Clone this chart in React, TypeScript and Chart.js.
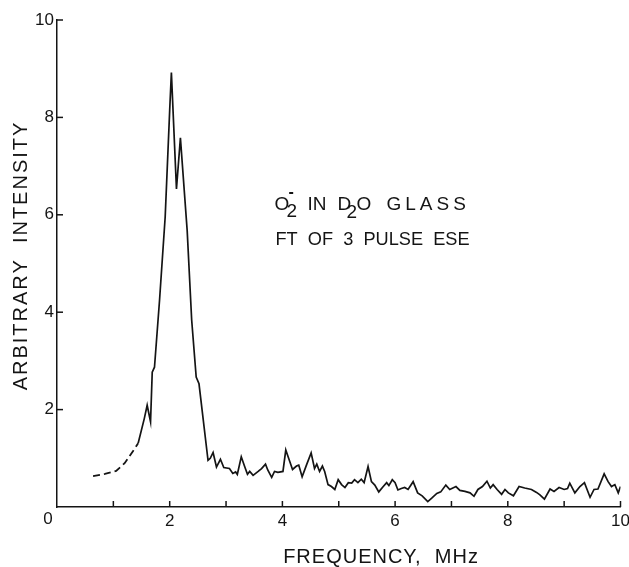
import { useEffect, useRef } from 'react';
import { Chart, registerables } from 'chart.js';

Chart.register(...registerables);

// Dashed low-frequency wing (extrapolated part of the spectrum)
const dashedFreq = [0.64, 0.85, 1.05, 1.2, 1.38, 1.44];
const dashedIntensity = [0.635, 0.68, 0.74, 0.9, 1.2, 1.31];

// Measured FT spectrum (solid)
const freq = [
  1.44, 1.55, 1.6, 1.66, 1.69, 1.73, 1.82, 1.92, 2.0, 2.03, 2.12, 2.19, 2.31, 2.39, 2.47, 2.52,
  2.68, 2.72, 2.77, 2.83, 2.9, 2.96, 3.06, 3.12, 3.17, 3.2, 3.27, 3.33, 3.38, 3.42, 3.48, 3.57,
  3.63, 3.7, 3.74, 3.81, 3.86, 3.92, 4.01, 4.06, 4.12, 4.18, 4.25, 4.29, 4.35, 4.43, 4.51, 4.57,
  4.61, 4.66, 4.71, 4.75, 4.81, 4.87, 4.93, 4.99, 5.05, 5.11, 5.17, 5.23, 5.28, 5.34, 5.4, 5.45,
  5.52, 5.58, 5.64, 5.71, 5.79, 5.85, 5.89, 5.95, 6.0, 6.05, 6.11, 6.17, 6.23, 6.32, 6.4, 6.48,
  6.58, 6.65, 6.74, 6.81, 6.9, 6.97, 7.08, 7.15, 7.24, 7.33, 7.4, 7.47, 7.55, 7.63, 7.69, 7.74,
  7.81, 7.89, 7.95, 8.01, 8.1, 8.2, 8.3, 8.42, 8.51, 8.57, 8.65, 8.75, 8.82, 8.91, 9.0, 9.06,
  9.1, 9.19, 9.28, 9.36, 9.46, 9.53, 9.6, 9.71, 9.78, 9.84, 9.9, 9.96, 10.0,
];
const intensity = [
  1.31, 1.82, 2.09, 1.75, 2.77, 2.87, 4.25, 5.96, 8.15, 8.92, 6.53, 7.58, 5.68, 3.84, 2.67, 2.53,
  0.96, 1.0, 1.12, 0.82, 0.98, 0.81, 0.79, 0.69, 0.72, 0.67, 1.03, 0.83, 0.67, 0.73, 0.65, 0.73,
  0.79, 0.88, 0.76, 0.61, 0.73, 0.71, 0.73, 1.17, 0.97, 0.77, 0.84, 0.86, 0.62, 0.87, 1.11, 0.79,
  0.88, 0.73, 0.84, 0.73, 0.46, 0.42, 0.36, 0.56, 0.46, 0.4, 0.5, 0.49, 0.56, 0.5, 0.57, 0.5,
  0.83, 0.52, 0.45, 0.31, 0.42, 0.5, 0.44, 0.56, 0.5, 0.35, 0.38, 0.4, 0.36, 0.52, 0.29, 0.23,
  0.11, 0.18, 0.28, 0.31, 0.45, 0.36, 0.42, 0.34, 0.32, 0.29, 0.22, 0.36, 0.42, 0.53, 0.39, 0.46,
  0.36, 0.26, 0.36, 0.29, 0.23, 0.42, 0.39, 0.36, 0.3, 0.25, 0.16, 0.37, 0.32, 0.4, 0.36, 0.38,
  0.49, 0.29, 0.42, 0.5, 0.2, 0.36, 0.37, 0.68, 0.52, 0.42, 0.46, 0.29, 0.42,
];

const xLabelValues = [2, 4, 6, 8, 10];
const yLabelValues = [2, 4, 6, 8, 10];
const xTickMarks = [1, 2, 3, 4, 5, 6, 7, 8, 9, 10];
const yTickMarks = [2, 4, 6, 8, 10];

const xTitle = 'FREQUENCY,  MHz';
const yTitle = 'ARBITRARY  INTENSITY';
const originLabel = '0';
const noteLine2 = 'FT  OF  3  PULSE  ESE';

const FONT = '"Liberation Sans", Arial, sans-serif';
const INK = '#141414';

const overlayPlugin = {
  id: 'overlay',
  afterDraw(chart: any) {
    const { ctx, chartArea, scales } = chart;
    const xs = scales.x;
    const ys = scales.y;
    ctx.save();
    ctx.strokeStyle = INK;
    ctx.lineWidth = 1.5;
    for (const v of xTickMarks) {
      const px = xs.getPixelForValue(v);
      ctx.beginPath();
      ctx.moveTo(px, chartArea.bottom);
      ctx.lineTo(px, chartArea.bottom - 6);
      ctx.stroke();
    }
    for (const v of yTickMarks) {
      const py = ys.getPixelForValue(v);
      ctx.beginPath();
      ctx.moveTo(chartArea.left, py);
      ctx.lineTo(chartArea.left + 6, py);
      ctx.stroke();
    }

    ctx.fillStyle = INK;
    // origin "0"
    ctx.font = `17px ${FONT}`;
    ctx.textAlign = 'center';
    ctx.textBaseline = 'middle';
    ctx.fillText(originLabel, xs.getPixelForValue(0) - 9, ys.getPixelForValue(0) + 12);

    // x title
    ctx.font = `20px ${FONT}`;
    (ctx as any).letterSpacing = '1px';
    ctx.textAlign = 'center';
    ctx.textBaseline = 'middle';
    ctx.fillText(xTitle, xs.getPixelForValue(5.75), chartArea.bottom + 50);

    // y title
    ctx.save();
    ctx.translate(21, ys.getPixelForValue(5) - 8);
    ctx.rotate(-Math.PI / 2);
    (ctx as any).letterSpacing = '2px';
    ctx.fillText(yTitle, 0, 0);
    ctx.restore();

    // annotation
    const ax = xs.getPixelForValue(3.86);
    const b1 = ys.getPixelForValue(6.09);
    const b2 = ys.getPixelForValue(5.37);
    ctx.textAlign = 'left';
    ctx.textBaseline = 'alphabetic';
    ctx.font = `19px ${FONT}`;
    (ctx as any).letterSpacing = '0px';
    const pieces: [string, number, number][] = [
      ['O', 0, 0],
      ['2', 12, 7],
      ['IN', 33, 0],
      ['D', 63, 0],
      ['2', 72, 8],
      ['O', 82, 0],
    ];
    for (const [t, dx, dy] of pieces) ctx.fillText(t, ax + dx, b1 + dy);
    (ctx as any).letterSpacing = '4px';
    ctx.fillText('GLASS', ax + 112, b1);
    (ctx as any).letterSpacing = '0px';
    ctx.font = `bold 16px ${FONT}`;
    ctx.fillText('-', ax + 14, b1 - 13);
    ctx.font = `19px ${FONT}`;
    (ctx as any).letterSpacing = '0px';
    ctx.fillText(noteLine2, ax + 1, b2, 194);
    ctx.restore();
  },
};

export default function App() {
  const ref = useRef<HTMLCanvasElement | null>(null);
  useEffect(() => {
    if (!ref.current) return;
    const chart = new Chart(ref.current, {
      type: 'line',
      data: {
        datasets: [
          {
            data: dashedFreq.map((x, i) => ({ x, y: dashedIntensity[i] })),
            borderColor: INK,
            borderWidth: 1.8,
            borderDash: [7, 4],
            pointRadius: 0,
            tension: 0,
            fill: false,
          },
          {
            data: freq.map((x, i) => ({ x, y: intensity[i] })),
            borderColor: INK,
            borderWidth: 1.7,
            pointRadius: 0,
            tension: 0,
            fill: false,
          },
        ],
      },
      options: {
        animation: false,
        responsive: false,
        maintainAspectRatio: false,
        layout: { padding: { top: 20, left: 0, right: 8.5, bottom: 0 } },
        plugins: { legend: { display: false }, tooltip: { enabled: false }, title: { display: false } },
        scales: {
          x: {
            type: 'linear',
            min: 0,
            max: 10,
            grid: { display: false, drawTicks: false },
            border: { display: true, color: INK, width: 1.5 },
            ticks: {
              stepSize: 1,
              autoSkip: false,
              maxRotation: 0,
              padding: 4,
              color: INK,
              font: { family: FONT, size: 17 },
              callback: (v: any) => (xLabelValues.includes(Number(v)) ? String(v) : ''),
            },
            afterFit: (s: any) => {
              s.height = 60;
              s.paddingLeft = 0;
              s.paddingRight = 0;
            },
          },
          y: {
            min: 0,
            max: 10,
            grid: { display: false, drawTicks: false },
            border: { display: true, color: INK, width: 1.5 },
            ticks: {
              stepSize: 2,
              padding: 3,
              color: INK,
              font: { family: FONT, size: 17 },
              callback: (v: any) => (yLabelValues.includes(Number(v)) ? String(v) : ''),
            },
            afterFit: (s: any) => {
              s.width = 57;
              s.paddingTop = 0;
              s.paddingBottom = 0;
            },
          },
        },
      },
      plugins: [overlayPlugin],
    });
    return () => chart.destroy();
  }, []);
  return (
    <div style={{ position: 'absolute', left: 0, top: 0, width: 629, height: 567, background: '#fff' }}>
      <canvas ref={ref} width={629} height={567} style={{ display: 'block' }} />
    </div>
  );
}
